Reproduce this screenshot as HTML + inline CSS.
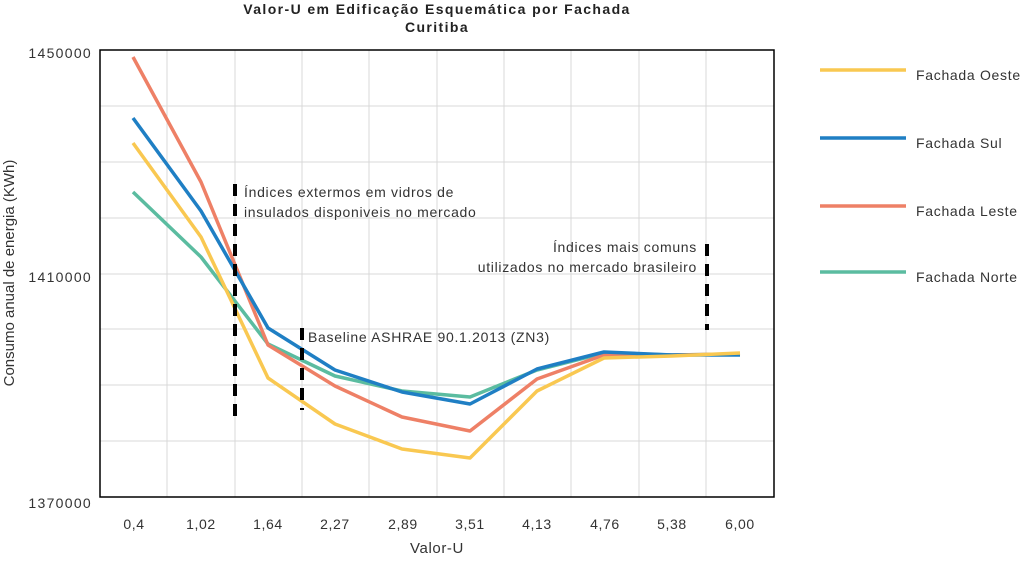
<!DOCTYPE html>
<html><head><meta charset="utf-8"><style>
body{margin:0;background:#fff;}
svg text{font-family:"Liberation Sans",sans-serif;}
</style></head><body>
<svg width="1024" height="558" viewBox="0 0 1024 558" xmlns="http://www.w3.org/2000/svg">
<rect width="1024" height="558" fill="#fff"/>
<text x="437" y="14" text-anchor="middle" font-size="14" font-weight="bold" letter-spacing="1.4" fill="#222">Valor-U  em Edificação Esquemática por Fachada</text>
<text x="437" y="32" text-anchor="middle" font-size="14" font-weight="bold" letter-spacing="1.4" fill="#222">Curitiba</text>
<g stroke="#d9d9d9" stroke-width="1">
<line x1="100" y1="106" x2="774" y2="106"/><line x1="100" y1="162" x2="774" y2="162"/><line x1="100" y1="218" x2="774" y2="218"/><line x1="100" y1="274" x2="774" y2="274"/><line x1="100" y1="329" x2="774" y2="329"/><line x1="100" y1="385" x2="774" y2="385"/><line x1="100" y1="441" x2="774" y2="441"/>
<line x1="167" y1="50" x2="167" y2="497"/><line x1="235" y1="50" x2="235" y2="497"/><line x1="302" y1="50" x2="302" y2="497"/><line x1="369" y1="50" x2="369" y2="497"/><line x1="437" y1="50" x2="437" y2="497"/><line x1="504" y1="50" x2="504" y2="497"/><line x1="571" y1="50" x2="571" y2="497"/><line x1="639" y1="50" x2="639" y2="497"/><line x1="706" y1="50" x2="706" y2="497"/>
</g>
<rect x="100" y="50" width="674" height="447" fill="none" stroke="#000" stroke-width="1.5"/>
<g font-size="14" fill="#333" text-anchor="end" letter-spacing="1.3">
<text x="92" y="58">1450000</text><text x="92" y="282">1410000</text><text x="92" y="508">1370000</text>
</g>
<g font-size="14" fill="#333" text-anchor="middle" letter-spacing="0.6">
<text x="134" y="529">0,4</text><text x="201" y="529">1,02</text><text x="268" y="529">1,64</text><text x="335" y="529">2,27</text><text x="403" y="529">2,89</text><text x="470" y="529">3,51</text><text x="537" y="529">4,13</text><text x="605" y="529">4,76</text><text x="672" y="529">5,38</text><text x="740" y="529">6,00</text>
<text x="437" y="553" font-size="15">Valor-U</text>
</g>
<text transform="translate(14,273) rotate(-90)" text-anchor="middle" font-size="15" fill="#333">Consumo anual de energia (KWh)</text>
<g fill="none" stroke-width="3.5" stroke-linejoin="round">
<polyline stroke="#5bbca0" points="133,192 201,257 268,344 335,376 402,391 470,397 537,370 604,353 672,355 740,354"/>
<polyline stroke="#ee8066" points="133,57 201,182 268,345 335,386 402,417 470,431 537,379 604,355 672,355 740,354"/>
<polyline stroke="#1f7fc4" points="133,118 201,211 268,328 335,370 402,392 470,404 537,369 604,352 672,355 740,355"/>
<polyline stroke="#f9c851" points="133,143 201,237 268,378 335,424 402,449 470,458 537,391 604,358 672,356 740,353"/>
</g>
<g stroke="#000" stroke-width="4" stroke-dasharray="12,8">
<line x1="235" y1="184" x2="235" y2="421"/><line x1="302" y1="328" x2="302" y2="410"/><line x1="707" y1="244" x2="707" y2="330"/>
</g>
<g font-size="14" fill="#333" letter-spacing="0.7">
<text x="244" y="197">Índices extermos em vidros de</text>
<text x="244" y="217">insulados disponiveis no mercado</text>
<text x="308" y="342">Baseline ASHRAE 90.1.2013 (ZN3)</text>
<text x="697" y="252" text-anchor="end">Índices mais comuns</text>
<text x="697" y="272" text-anchor="end">utilizados no mercado brasileiro</text>
</g>
<g stroke-width="3.5">
<line x1="820" y1="70" x2="906" y2="70" stroke="#f9c851"/>
<line x1="820" y1="138" x2="906" y2="138" stroke="#1f7fc4"/>
<line x1="820" y1="206" x2="906" y2="206" stroke="#ee8066"/>
<line x1="820" y1="272" x2="906" y2="272" stroke="#5bbca0"/>
</g>
<g font-size="14" fill="#333" letter-spacing="0.7">
<text x="916" y="80">Fachada Oeste</text>
<text x="916" y="148">Fachada Sul</text>
<text x="916" y="216">Fachada Leste</text>
<text x="916" y="282">Fachada Norte</text>
</g>
</svg>
</body></html>
